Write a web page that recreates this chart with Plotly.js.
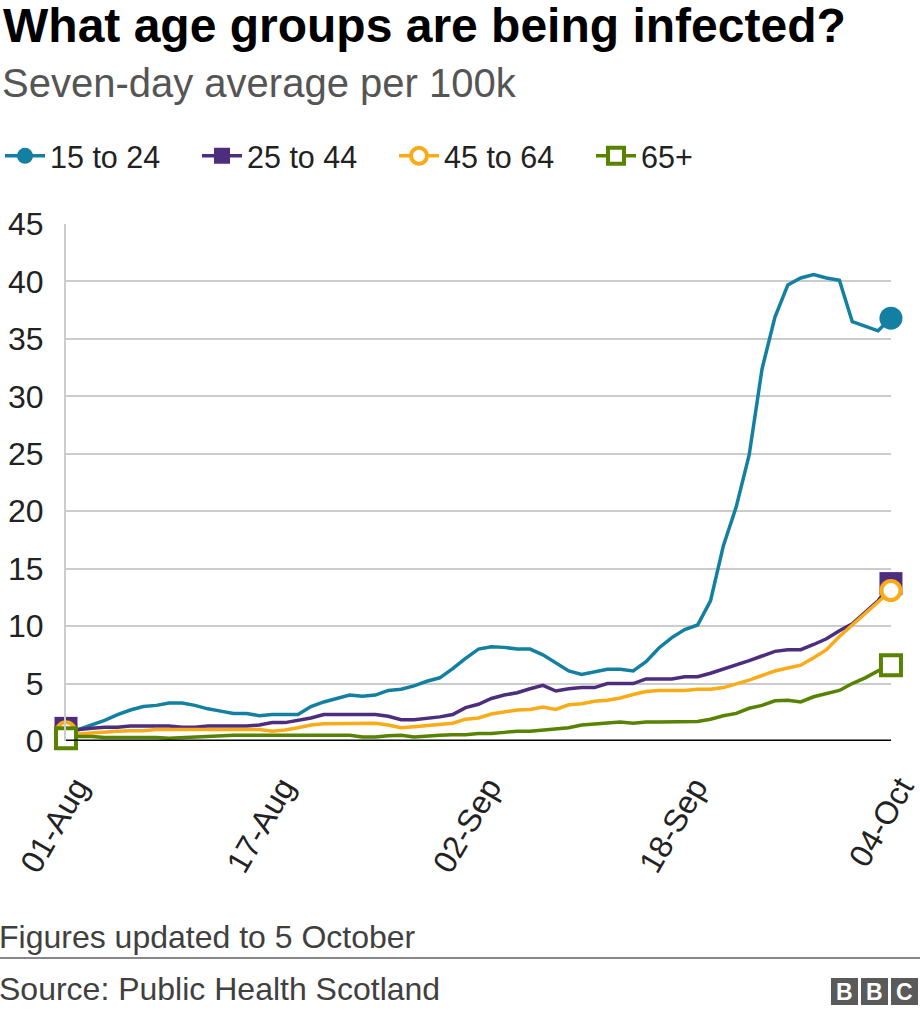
<!DOCTYPE html>
<html>
<head>
<meta charset="utf-8">
<script src="https://cdn.plot.ly/plotly-3.0.1.min.js"></script>
<style>html,body{margin:0;padding:0;background:#fff;}#chart{width:920px;height:1014px;}</style>
</head>
<body>
<div id="chart"></div>
<script>
// ---- data ----
const startDate = '2020-08-01';
const nDays = 65;
const tickDates = ['2020-08-01', '2020-08-17', '2020-09-02', '2020-09-18', '2020-10-04'];
const tickLabels = ['01-Aug', '17-Aug', '02-Sep', '18-Sep', '04-Oct'];
const seriesNames = ['15 to 24', '25 to 44', '45 to 64', '65+'];

const age15to24 = [0.7, 1.0, 1.4, 1.8, 2.3, 2.7, 3.0, 3.1, 3.3, 3.3, 3.1, 2.8, 2.6, 2.4, 2.4, 2.2, 2.3, 2.3, 2.3, 3.0, 3.4, 3.7, 4.0, 3.9, 4.0, 4.4, 4.5, 4.8, 5.2, 5.5, 6.3,
  7.2, 8.0, 8.2, 8.15, 8.0, 8.0, 7.5, 6.8, 6.1, 5.8, 6.0, 6.25, 6.25, 6.1, 6.9, 8.1, 9.0, 9.7, 10.1, 12.2, 17.0, 20.4, 24.9, 32.4, 36.9, 39.7, 40.3, 40.6, 40.3, 40.1, 36.5, 36.1, 35.7, 36.8];
const age25to44 = [1.1, 1.0, 1.1, 1.2, 1.2, 1.3, 1.3, 1.3, 1.3, 1.2, 1.2, 1.3, 1.3, 1.3, 1.3, 1.4, 1.6, 1.6, 1.8, 2.0, 2.3, 2.3, 2.3, 2.3, 2.3, 2.15, 1.85, 1.85, 1.95, 2.1, 2.3,
  2.9, 3.2, 3.7, 4.0, 4.2, 4.55, 4.85, 4.35, 4.55, 4.65, 4.65, 5.0, 5.0, 5.0, 5.4, 5.4, 5.4, 5.6, 5.6, 5.9, 6.25, 6.65, 7.0, 7.4, 7.8, 7.95, 7.95, 8.4, 8.9, 9.6, 10.2, 11.2, 12.2, 13.7];
const age45to64 = [0.8, 0.6, 0.7, 0.8, 0.85, 0.9, 0.9, 1.0, 1.0, 1.0, 1.0, 1.0, 1.0, 1.0, 1.0, 1.0, 0.85, 0.95, 1.15, 1.4, 1.5, 1.5, 1.55, 1.55, 1.55, 1.4, 1.15, 1.25, 1.35, 1.45, 1.55,
  1.9, 2.0, 2.35, 2.5, 2.7, 2.75, 2.95, 2.75, 3.15, 3.25, 3.45, 3.55, 3.75, 4.05, 4.3, 4.4, 4.4, 4.4, 4.5, 4.5, 4.65, 4.95, 5.3, 5.7, 6.1, 6.35, 6.6, 7.25, 7.95, 9.1, 10.1, 11.2, 12.1, 13.1];
const age65plus = [0.25, 0.4, 0.4, 0.3, 0.3, 0.3, 0.35, 0.3, 0.25, 0.3, 0.35, 0.4, 0.5, 0.5, 0.5, 0.5, 0.5, 0.5, 0.5, 0.5, 0.5, 0.5, 0.5, 0.35, 0.35, 0.45, 0.5, 0.35, 0.45, 0.5, 0.55,
  0.55, 0.65, 0.65, 0.75, 0.85, 0.85, 0.95, 1.05, 1.15, 1.4, 1.5, 1.55, 1.65, 1.55, 1.65, 1.65, 1.65, 1.65, 1.7, 1.9, 2.2, 2.4, 2.85, 3.1, 3.5, 3.55, 3.4, 3.85, 4.1, 4.4, 5.0, 5.5, 6.1, 6.6];

// ---- build date categories ----
const dates = [];
{
  const d0 = new Date(startDate + 'T00:00:00Z');
  for (let i = 0; i < nDays; i++) {
    const d = new Date(d0.getTime() + i * 86400000);
    dates.push(d.toISOString().slice(0, 10));
  }
}

// ---- styles ----
const FONT = '"Liberation Sans", Arial, Helvetica, sans-serif';
const colors = ['#1380A1', '#4d2d7d', '#FAAB18', '#588300'];
const markerStyles = [
  {symbol: 'circle', size: 23, color: colors[0], line: {width: 0}},
  {symbol: 'square', size: 23, color: colors[1], line: {width: 0}},
  {symbol: 'circle', size: 19, color: '#ffffff', line: {width: 4, color: colors[2]}},
  {symbol: 'square', size: 20, color: '#ffffff', line: {width: 4, color: colors[3]}}
];
const allSeries = [age15to24, age25to44, age45to64, age65plus];

const traces = [];
allSeries.forEach((s, i) => {
  traces.push({
    x: dates, y: s, type: 'scatter', mode: 'lines',
    line: {color: colors[i], width: 3.5},
    showlegend: false, hoverinfo: 'skip', cliponaxis: false
  });
});
allSeries.forEach((s, i) => {
  traces.push({
    x: [dates[0], null, dates[dates.length - 1]],
    y: [s[0], null, s[s.length - 1]],
    type: 'scatter', mode: 'lines+markers', name: seriesNames[i],
    line: {color: colors[i], width: 3.5},
    marker: markerStyles[i],
    connectgaps: false, cliponaxis: false, hoverinfo: 'skip'
  });
});

// ---- pixel helpers for page furniture ----
const W = 920, H = 1014, ML = 66, MR = 29, MT = 224, MB = 273;
const PW = W - ML - MR, PH = H - MT - MB;
const pxX = p => (p - ML) / PW;
const pxY = p => (H - MB - p) / PH;

const shapes = [
  {type: 'line', xref: 'paper', yref: 'y', x0: 0, x1: 1, y0: 0, y1: 0, line: {color: '#000', width: 3}},
  {type: 'line', xref: 'paper', yref: 'paper', x0: pxX(0), x1: pxX(920), y0: pxY(958), y1: pxY(958), line: {color: '#888', width: 2}}
];
const bbcBoxes = [831, 861, 891];
const annotations = [
  {xref: 'paper', yref: 'paper', x: pxX(0), y: pxY(59), xanchor: 'left', yanchor: 'top', showarrow: false,
   text: 'Seven-day average per 100k', font: {family: FONT, size: 40, color: '#555555'}},
  {xref: 'paper', yref: 'paper', x: pxX(-3), y: pxY(937), xanchor: 'left', yanchor: 'middle', showarrow: false,
   text: 'Figures updated to 5 October', font: {family: FONT, size: 32, color: '#404040'}},
  {xref: 'paper', yref: 'paper', x: pxX(-3), y: pxY(989), xanchor: 'left', yanchor: 'middle', showarrow: false,
   text: 'Source: Public Health Scotland', font: {family: FONT, size: 32, color: '#404040'}}
];
['B', 'B', 'C'].forEach((ch, i) => {
  const x0 = bbcBoxes[i];
  shapes.push({type: 'rect', xref: 'paper', yref: 'paper', x0: pxX(x0), x1: pxX(x0 + 27), y0: pxY(978), y1: pxY(1005),
    fillcolor: '#5a5a5a', line: {width: 0}});
  annotations.push({xref: 'paper', yref: 'paper', x: pxX(x0 + 13.5), y: pxY(991.5), xanchor: 'center', yanchor: 'middle',
    showarrow: false, text: '<b>' + ch + '</b>', font: {family: FONT, size: 23, color: '#ffffff'}});
});

const layout = {
  width: W, height: H,
  margin: {l: ML, r: MR, t: MT, b: MB, pad: 0},
  paper_bgcolor: '#ffffff', plot_bgcolor: '#ffffff',
  font: {family: FONT, color: '#222222'},
  title: {
    text: '<b>What age groups are being infected?</b>',
    xref: 'container', yref: 'container', x: 3 / W, y: 1 - 8 / H, xanchor: 'left', yanchor: 'top',
    font: {family: FONT, size: 48, color: '#000000'}
  },
  showlegend: true,
  legend: {
    orientation: 'h', xref: 'container', yref: 'container', x: 0, y: 1 - 156 / H,
    xanchor: 'left', yanchor: 'middle', font: {family: FONT, size: 30.5, color: '#222222'},
    entrywidth: 142, entrywidthmode: 'pixels', itemwidth: 40, traceorder: 'normal',
    bgcolor: 'rgba(0,0,0,0)', borderwidth: 0
  },
  xaxis: {
    type: 'date', range: [dates[0], dates[dates.length - 1] + ' 00:05'],
    tickmode: 'array', tickvals: tickDates, ticktext: tickLabels,
    tickangle: -60, tickfont: {family: FONT, size: 32, color: '#222222'},
    showgrid: false, zeroline: false, showline: false, ticks: '',
    ticklabelshift: 10, ticklabelstandoff: 20, ticklabeloverflow: 'allow', fixedrange: true
  },
  yaxis: {
    range: [0, 45], tickmode: 'linear', tick0: 0, dtick: 5,
    tickfont: {family: FONT, size: 32, color: '#222222'},
    showgrid: true, gridcolor: '#cccccc', gridwidth: 2,
    zeroline: false, showline: true, linecolor: '#cccccc', linewidth: 2,
    ticks: '', ticklabelstandoff: 14, fixedrange: true
  },
  shapes: shapes,
  annotations: annotations
};

Plotly.newPlot('chart', traces, layout, {displayModeBar: false, staticPlot: true});
</script>
</body>
</html>
